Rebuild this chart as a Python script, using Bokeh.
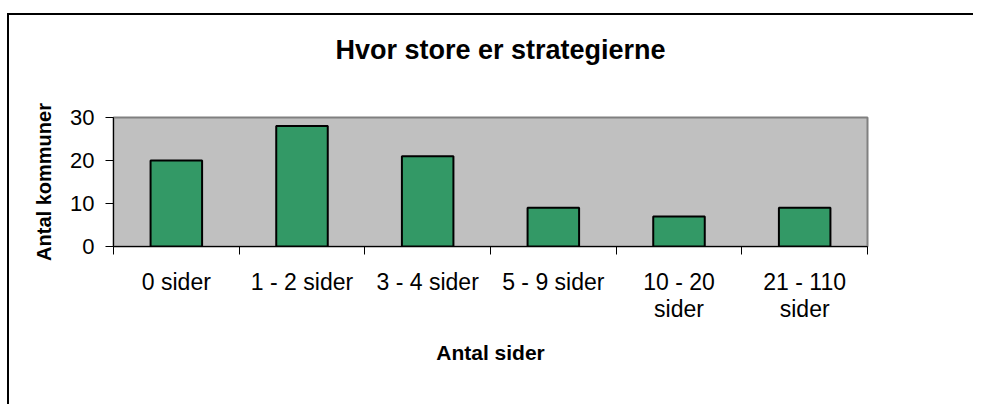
from bokeh.plotting import figure
from bokeh.models import FixedTicker, LinearAxis
from bokeh.embed import file_html
from bokeh.resources import INLINE

categories = ["0 sider", "1 - 2 sider", "3 - 4 sider", "5 - 9 sider", "10 - 20\nsider", "21 - 110\nsider"]
values = [20, 28, 21, 9, 7, 9]
y_ticks = [0, 10, 20, 30]
title_text = "Hvor store er strategierne"
x_title = "Antal sider"
y_title = "Antal kommuner"

FONT = "Liberation Sans"
n = len(categories)
xs = [i + 0.5 for i in range(n)]
y_max = y_ticks[-1]

PLOT_W = 754  # frame width in px
title_x = n / 2 + 10 * n / PLOT_W  # chart-area centre sits 10px right of the plot-area centre

p = figure(width=973, height=404, output_backend="svg", toolbar_location=None,
           x_range=(0, n), y_range=(0, y_max),
           min_border_left=113, min_border_right=106, min_border_top=117, min_border_bottom=158,
           x_axis_type=None, y_axis_type=None)

p.background_fill_color = "#C0C0C0"
p.border_fill_alpha = 0
p.outline_line_color = "#808080"
p.outline_line_width = 2
# outer chart-area frame (left and top edges visible in the window)
p.styles = {
    "background": "linear-gradient(#000, #000) 7px 13px / 2px 100% no-repeat, "
                  "linear-gradient(#000, #000) 7px 13px / 100% 2px no-repeat, #ffffff"
}

p.vbar(x=xs, top=values, width=0.41, fill_color="#339966", line_color="black", line_width=2)

# y axis
yax = LinearAxis(ticker=FixedTicker(ticks=y_ticks, minor_ticks=[]))
yax.axis_line_color = "black"
yax.major_tick_out = 8
yax.major_tick_in = 0
yax.minor_tick_out = 0
yax.major_label_standoff = 11
yax.major_label_text_font = FONT
yax.major_label_text_font_size = "22px"
yax.major_label_text_color = "black"
yax.axis_label = y_title
yax.axis_label_text_font = FONT
yax.axis_label_text_font_style = "bold"
yax.axis_label_text_font_size = "20px"
yax.axis_label_text_color = "black"
yax.axis_label_standoff = 12
p.add_layout(yax, "left")

# x axis: labels at category centres, tick marks at category boundaries
xax = LinearAxis(ticker=FixedTicker(ticks=xs, minor_ticks=list(range(n + 1))))
xax.major_label_overrides = {x: c for x, c in zip(xs, categories)}
xax.axis_line_color = "black"
xax.major_tick_out = 0
xax.major_tick_in = 0
xax.minor_tick_out = 8
xax.minor_tick_in = 0
xax.minor_tick_line_color = "black"
xax.major_label_standoff = 14
xax.major_label_text_font = FONT
xax.major_label_text_font_size = "23px"
xax.major_label_text_color = "black"
xax.major_label_text_line_height = 1.05
xax.axis_label = x_title
xax.axis_label_text_font = FONT
xax.axis_label_text_font_style = "bold"
xax.axis_label_text_font_size = "21px"
xax.axis_label_text_color = "black"
xax.axis_label_standoff = 16
p.add_layout(xax, "below")

# chart title, drawn as the single label of an otherwise invisible top axis
tax = LinearAxis(ticker=FixedTicker(ticks=[title_x], minor_ticks=[]))
tax.major_label_overrides = {title_x: title_text}
tax.axis_line_alpha = 0
tax.major_tick_out = 0
tax.major_tick_in = 0
tax.minor_tick_out = 0
tax.minor_tick_in = 0
tax.major_label_standoff = 53
tax.major_label_text_font = FONT
tax.major_label_text_font_style = "bold"
tax.major_label_text_font_size = "27px"
tax.major_label_text_color = "black"
p.add_layout(tax, "above")

p.xgrid.visible = False
p.ygrid.ticker = FixedTicker(ticks=y_ticks)
p.ygrid.grid_line_color = "black"
p.ygrid.grid_line_width = 1

open("out.html", "w").write(file_html(p, INLINE))
